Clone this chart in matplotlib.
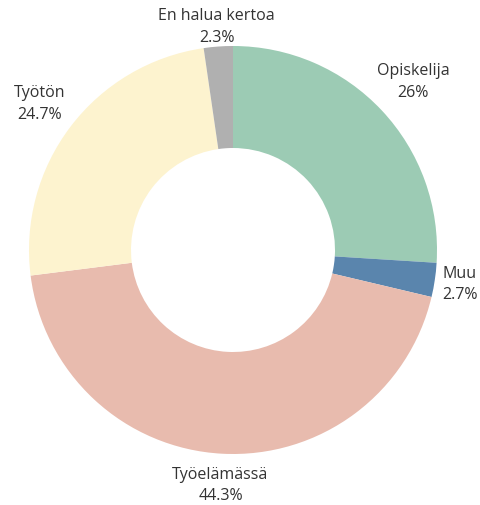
import matplotlib.pyplot as plt
import numpy as np

labels = ['Opiskelija', 'Muu', 'Työelämässä', 'Työtön', 'En halua kertoa']
values = [26.0, 2.7, 44.3, 24.7, 2.3]
value_labels = ['26%', '2.7%', '44.3%', '24.7%', '2.3%']
colors = ['#9ccbb4', '#5a85ad', '#e8bbae', '#fdf3cf', '#b0b0b0']
# how far the label sits from the centre, in units of the outer radius
label_dist = [1.21, 1.125, 1.15, 1.19, 1.10]

plt.rcParams['font.family'] = ['Open Sans', 'DejaVu Sans']

fig = plt.figure(figsize=(4.8, 5.06), dpi=100)
ax = fig.add_axes([0, 0, 1, 1])

scale = 204.0  # outer radius in pixels
cx, cy = 233.0, 251.0

wedges, _ = ax.pie(values, colors=colors, startangle=90, counterclock=False,
                   radius=1.0, wedgeprops=dict(width=0.5, edgecolor='none'))

for w, lab, vl, d in zip(wedges, labels, value_labels, label_dist):
    ang = np.deg2rad((w.theta1 + w.theta2) / 2)
    x, y = d * np.cos(ang), d * np.sin(ang)
    ax.text(x, y, f'{lab}\n{vl}', ha='center', va='center', fontsize=11.5,
            color='#333333', linespacing=1.45)

ax.set_xlim(-cx / scale, (480 - cx) / scale)
ax.set_ylim(-(506 - cy) / scale, cy / scale)
ax.axis('off')

fig.savefig('out.png', dpi=100)
